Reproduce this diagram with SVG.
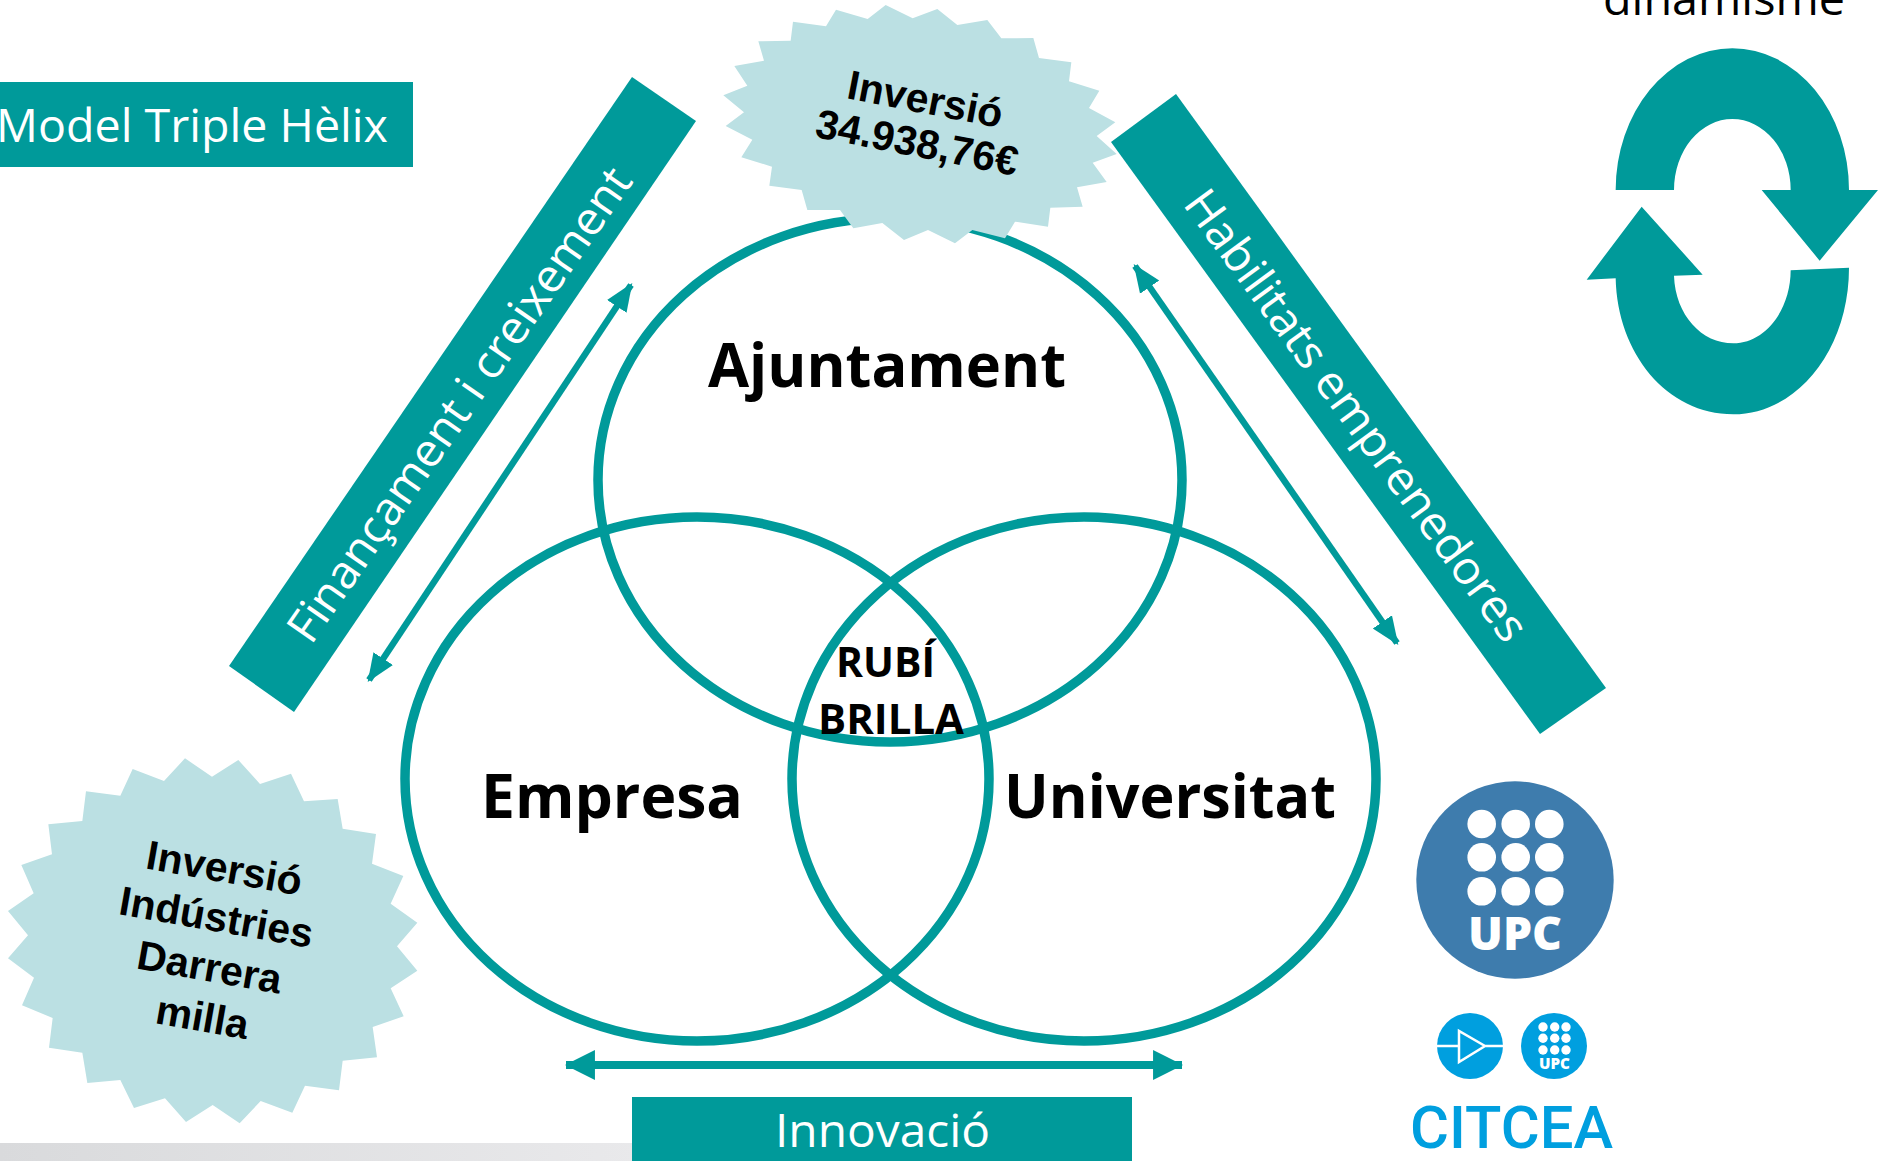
<svg xmlns="http://www.w3.org/2000/svg" width="1881" height="1161" viewBox="0 0 1881 1161">
<style>
.teal{fill:#009a9a}
.circ{fill:none;stroke:#009a9a;stroke-width:9.5}
.burst{fill:#bbe0e3}
.bt{font-family:"Liberation Sans",Arial,sans-serif;font-weight:700;font-size:41px;fill:#000;text-anchor:middle}
.wt{font-family:"Open Sans","Noto Sans",sans-serif;font-size:46px;fill:#fff;font-weight:400}
.big{font-family:"Open Sans","Noto Sans",sans-serif;font-size:61px;font-weight:700;fill:#000}
.mid{font-family:"Open Sans","Noto Sans",sans-serif;font-size:41px;font-weight:700;fill:#000}
.conn{fill:none;stroke:#009a9a}
</style>
<defs>
<linearGradient id="strip" x1="0" x2="1" y1="0" y2="0"><stop offset="0" stop-color="#d9dadc"/><stop offset="1" stop-color="#e9e9eb"/></linearGradient>
<marker id="head" markerUnits="userSpaceOnUse" markerWidth="28" markerHeight="26" refX="22" refY="10" orient="auto-start-reverse" viewBox="0 0 24 20"><path d="M0,0L24,10L0,20Z" fill="#009a9a"/></marker>
<marker id="headB" markerUnits="userSpaceOnUse" markerWidth="30" markerHeight="30" refX="27" refY="14" orient="auto-start-reverse" viewBox="0 0 28 28"><path d="M0,0L28,14L0,28Z" fill="#009a9a"/></marker>
</defs>
<rect width="1881" height="1161" fill="#fff"/>
<rect x="0" y="1143" width="640" height="18" fill="url(#strip)"/>
<g id="node-ajuntament"><ellipse class="circ" cx="890" cy="480" rx="292" ry="262"/></g>
<g id="node-empresa"><ellipse class="circ" cx="697" cy="779" rx="292" ry="262"/></g>
<g id="node-universitat"><ellipse class="circ" cx="1084" cy="779" rx="292" ry="262"/></g>
<g id="connectors">
<line class="conn" stroke-width="6.5" x1="369" y1="680" x2="631" y2="285" marker-start="url(#head)" marker-end="url(#head)"/>
<line class="conn" stroke-width="6.5" x1="1135" y1="266" x2="1397" y2="643" marker-start="url(#head)" marker-end="url(#head)"/>
<line class="conn" stroke-width="8" x1="566" y1="1065" x2="1182" y2="1065" marker-start="url(#headB)" marker-end="url(#headB)"/>
</g>
<g id="node-model"><rect class="teal" x="0" y="82" width="413" height="85"/><text class="wt" x="-4" y="142" textLength="392" lengthAdjust="spacingAndGlyphs">Model Triple Hèlix</text></g>
<g id="node-financament"><polygon class="teal" points="632,77 696,121 294,712 229,666"/><text class="wt" transform="translate(311,646) rotate(-55.2)" textLength="566" lengthAdjust="spacingAndGlyphs">Finançament i creixement</text></g>
<g id="node-habilitats"><polygon class="teal" points="1176,94 1111,142 1540,734 1606,688"/><text class="wt" transform="translate(1182,204) rotate(53.8)" textLength="547" lengthAdjust="spacingAndGlyphs">Habilitats emprenedores</text></g>
<g id="node-innovacio"><rect class="teal" x="632" y="1097" width="500" height="64"/><text class="wt" x="775" y="1147" textLength="215" lengthAdjust="spacingAndGlyphs">Innovació</text></g>
<g id="node-inversio"><polygon class="burst" transform="translate(700,0) scale(.33333)" points="557,15 638,55 712,27 772,75 862,60 904,115 1000,114 1017,174 1114,187 1107,244 1198,272 1167,324 1246,367 1190,408 1250,462 1178,488 1220,546 1131,562 1148,620 1051,623 1044,680 945,665 915,715 817,690 765,730 684,690 612,720 547,669 460,685 420,630 322,630 305,570 208,557 216,500 124,472 157,419 77,378 132,337 70,286 142,257 103,198 192,182 175,124 272,122 279,65 378,79 408,29 503,57"/>
<g transform="translate(922,117) rotate(11)"><text class="bt" x="0" y="-4">Inversió</text><text class="bt" x="0" y="40">34.938,76€</text></g></g>
<g id="node-industries"><polygon class="burst" transform="translate(0,740) scale(.33333)" points="555,55 636,110 715,60 780,132 873,101 912,184 1013,177 1028,266 1128,282 1116,371 1210,408 1172,491 1252,548 1191,619 1252,692 1172,745 1211,829 1118,861 1131,952 1028,962 1017,1051 915,1037 877,1118 782,1083 719,1150 638,1095 558,1146 495,1075 402,1104 361,1020 262,1029 247,938 147,923 158,834 66,796 102,713 24,655 84,586 24,513 101,460 64,375 156,343 145,253 247,243 258,154 361,167 398,87 492,123"/>
<text class="bt" transform="translate(222,882) rotate(10)">Inversió</text><text class="bt" transform="translate(214,931) rotate(10)">Indústries</text><text class="bt" transform="translate(207,981) rotate(10)">Darrera</text><text class="bt" transform="translate(200,1031) rotate(10)">milla</text></g>
<text class="big" x="708" y="387" textLength="358" lengthAdjust="spacingAndGlyphs">Ajuntament</text>
<text class="big" x="481" y="818" textLength="262" lengthAdjust="spacingAndGlyphs">Empresa</text>
<text class="big" x="1004" y="818" textLength="332" lengthAdjust="spacingAndGlyphs">Universitat</text>
<g id="node-rubi"><text class="mid" x="836" y="677" textLength="99" lengthAdjust="spacingAndGlyphs">RUBÍ</text><text class="mid" x="818" y="734" textLength="146" lengthAdjust="spacingAndGlyphs">BRILLA</text></g>
<g id="node-dinamisme"><text x="1603" y="15" font-family="'Open Sans','Noto Sans',sans-serif" font-size="46" fill="#000" textLength="242" lengthAdjust="spacingAndGlyphs">dinamisme</text>
<g class="teal" transform="translate(1560,0) scale(.33333)"><path d="M167,570A350,425 0 0 1 867,570L954,570L779,782L605,570L692,570A175,213 0 0 0 342,570Z"/><path d="M867,803C867,1050 710,1243 520,1243C320,1243 172,1060 167,835L80,839L245,620L428,824L342,827C346,945 425,1030 520,1030C615,1030 692,930 692,811Z"/></g></g>
<g id="node-upc"><circle cx="1515" cy="880" r="98.7" fill="#3e7cad"/>
<g fill="#fff"><circle cx="1481.7" cy="824" r="14.3"/><circle cx="1515.7" cy="824" r="14.3"/><circle cx="1549.3" cy="824" r="14.3"/><circle cx="1481.7" cy="857.3" r="14.3"/><circle cx="1515.7" cy="857.3" r="14.3"/><circle cx="1549.3" cy="857.3" r="14.3"/><circle cx="1481.7" cy="891.3" r="14.3"/><circle cx="1515.7" cy="891.3" r="14.3"/><circle cx="1549.3" cy="891.3" r="14.3"/></g>
<text x="1468" y="950" font-family="'Open Sans',sans-serif" font-weight="800" font-size="46" fill="#fff" textLength="94" lengthAdjust="spacingAndGlyphs">UPC</text></g>
<g id="node-citcea"><circle cx="1470" cy="1046" r="33" fill="#009fdf"/><path d="M1437,1046H1459M1505,1046H1485M1459,1031V1062L1485,1046Z" fill="none" stroke="#fff" stroke-width="2.5"/>
<circle cx="1554" cy="1046" r="33" fill="#009fdf"/>
<g fill="#fff"><circle cx="1543" cy="1027" r="4.7"/><circle cx="1554.7" cy="1027" r="4.7"/><circle cx="1566" cy="1027" r="4.7"/><circle cx="1543" cy="1038.3" r="4.7"/><circle cx="1554.7" cy="1038.3" r="4.7"/><circle cx="1566" cy="1038.3" r="4.7"/><circle cx="1543" cy="1050" r="4.7"/><circle cx="1554.7" cy="1050" r="4.7"/><circle cx="1566" cy="1050" r="4.7"/></g>
<text x="1539" y="1069" font-family="'Open Sans',sans-serif" font-weight="800" font-size="15" fill="#fff" textLength="31" lengthAdjust="spacingAndGlyphs">UPC</text>
<text x="1410" y="1148" font-family="Roboto,sans-serif" font-weight="500" font-size="60" fill="#009fdf" textLength="203" lengthAdjust="spacingAndGlyphs">CITCEA</text></g>
</svg>
